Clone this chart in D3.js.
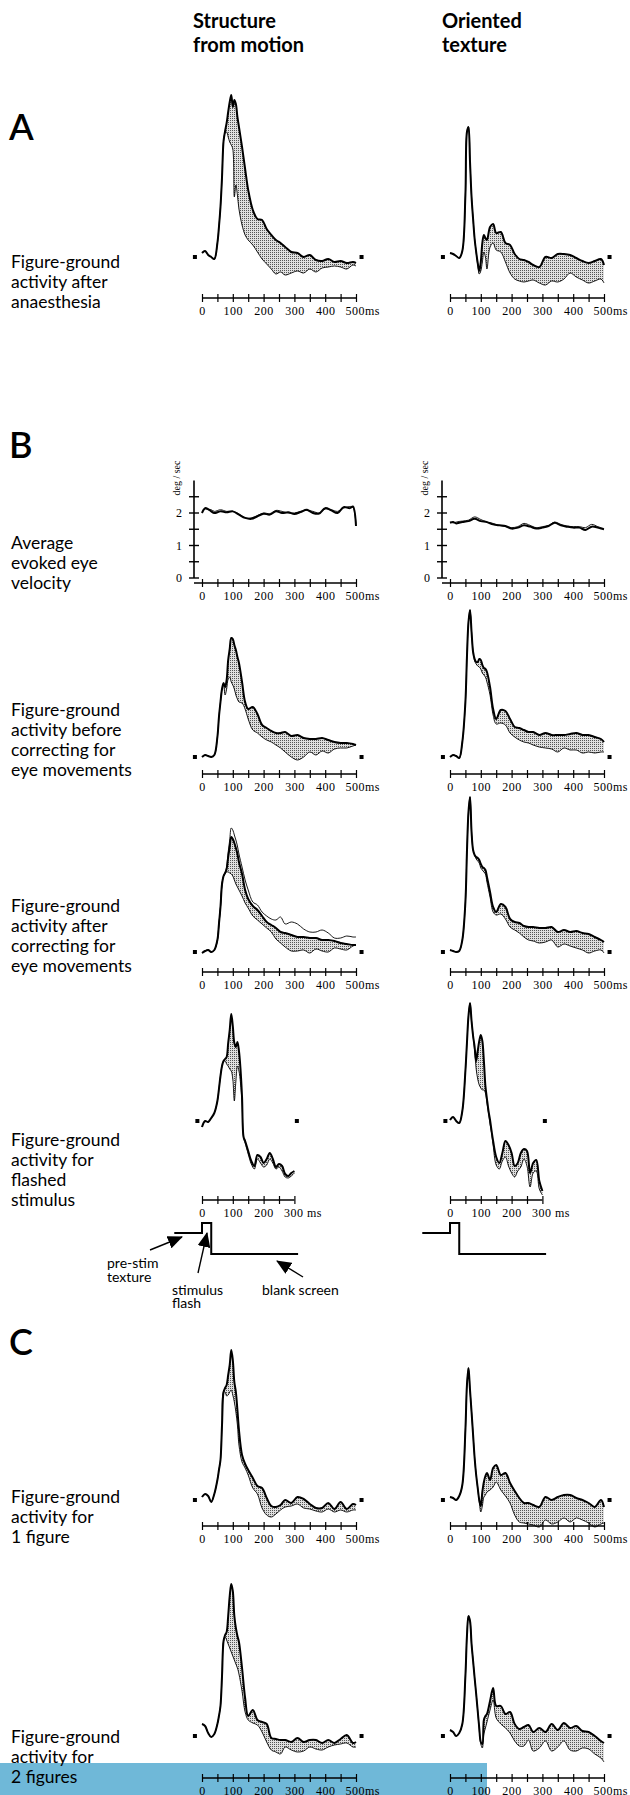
<!DOCTYPE html>
<html>
<head>
<meta charset="utf-8">
<script src="https://cdn.jsdelivr.net/npm/d3@7"></script>
<style>
  body { margin: 0; background: #fff; }
  svg text { font-family: Lato, 'Noto Sans', sans-serif; fill: #000; }
</style>
</head>
<body>
<svg id="chart"></svg>
<script>
// time grids (ms)
var T500 = [0, 10, 20, 30, 40, 50, 55, 60, 65, 70, 75, 80, 85, 90, 95, 100, 105, 110, 115, 120,
  130, 140, 150, 165, 180, 195, 210, 225, 240, 255, 270, 290, 310, 330, 350, 370, 390, 410, 430,
  450, 470, 490, 500];
var T300 = [0, 10, 20, 30, 40, 50, 55, 60, 65, 70, 75, 80, 85, 90, 95, 100, 105, 110, 115, 120,
  125, 130, 135, 140, 150, 160, 170, 180, 190, 200, 210, 220, 230, 240, 250, 260, 270, 280, 290, 300];
var TVEL = [0, 10, 20, 30, 40, 60, 80, 100, 120, 140, 160, 180, 200, 220, 240, 260, 280, 300, 320,
  340, 360, 380, 400, 420, 440, 460, 480, 490, 500];

// activity relative to pre-stimulus level (a.u.), fig = figure response, gnd = ground response
// A: after anaesthesia
var aSfmFig = [4, 6, 2, 0, -2, 14, 30, 50, 80, 116, 126, 134, 145, 155, 162, 150, 157, 153, 140, 130, 110, 88, 67, 47, 38, 37, 28, 22, 17, 14, 10, 5, 4, 0, 2, -3, -4, -2, -5, -4, -6, -5, -6];
var aSfmGnd = [4, 6, 2, 0, -2, 14, 30, 50, 80, 116, 124, 125, 120, 115, 112, 108, 60, 72, 62, 48, 32, 22, 17, 12, 5, -2, -7, -12, -17, -15, -18, -16, -14, -16, -12, -15, -11, -10, -9, -10, -12, -8, -9];
var aTexFig = [4, 3, 1, -1, 6, 62, 125, 130, 95, 60, 38, 18, 5, -6, -14, -5, 14, 22, 19, 17, 30, 33, 24, 25, 14, 12, 3, -2, -3, -5, -8, -10, 0, -1, 3, 3, 2, -1, -4, -6, -4, -2, -8];
var aTexGnd = [4, 3, 1, -1, 6, 62, 125, 130, 95, 60, 38, 18, 5, -8, -17, -14, -5, 5, 0, -12, 10, 14, 7, 5, -5, -16, -22, -24, -25, -24, -23, -26, -28, -24, -25, -22, -16, -20, -23, -26, -24, -22, -26];

// B: average evoked eye velocity (deg/sec)
var velSfmFig = [2.0, 2.15, 2.12, 2.05, 2.0, 2.05, 2.02, 2.05, 1.95, 1.85, 1.82, 1.9, 1.98, 1.95, 2.05, 2.0, 2.02, 1.97, 2.03, 2.1, 2.0, 1.98, 2.15, 2.08, 2.0, 2.18, 2.15, 2.2, 1.6];
var velSfmGnd = [2.0, 2.12, 2.1, 2.1, 2.05, 2.1, 2.05, 2.05, 1.97, 1.85, 1.85, 1.92, 2.0, 1.98, 2.08, 2.05, 2.0, 2.0, 2.05, 2.08, 2.05, 2.0, 2.12, 2.1, 2.05, 2.15, 2.2, 2.18, 1.65];
var velTexFig = [1.7, 1.72, 1.68, 1.7, 1.72, 1.75, 1.82, 1.75, 1.72, 1.65, 1.62, 1.6, 1.52, 1.55, 1.62, 1.58, 1.52, 1.55, 1.6, 1.7, 1.62, 1.58, 1.55, 1.55, 1.48, 1.58, 1.55, 1.52, 1.5];
var velTexGnd = [1.72, 1.7, 1.72, 1.74, 1.75, 1.78, 1.88, 1.8, 1.72, 1.68, 1.62, 1.58, 1.55, 1.58, 1.68, 1.62, 1.55, 1.58, 1.62, 1.72, 1.65, 1.6, 1.58, 1.58, 1.55, 1.65, 1.58, 1.55, 1.52];

// B: before correcting for eye movements
var bSfmFig = [0, 2, 1, 0, 2, 20, 40, 55, 68, 74, 70, 77, 97, 108, 119, 118, 112, 107, 100, 94, 75, 55, 48, 50, 43, 32, 29, 26, 24, 24, 25, 21, 22, 19, 18, 18, 19, 17, 15, 14, 14, 13, 12];
var bSfmGnd = [0, 2, 1, 0, 2, 20, 40, 55, 68, 72, 62, 68, 78, 80, 75, 72, 68, 62, 58, 55, 54, 48, 38, 27, 24, 20, 17, 15, 12, 9, 5, 0, -3, 0, 5, 2, 6, 4, 8, 9, 9, 11, 12];
var bTexFig = [0, 2, 1, -1, 15, 55, 100, 135, 147, 125, 105, 98, 95, 95, 98, 97, 92, 89, 88, 85, 70, 48, 38, 47, 46, 38, 30, 29, 27, 25, 25, 22, 24, 22, 22, 22, 23, 24, 22, 22, 20, 18, 15];
var bTexGnd = [0, 2, 1, -1, 15, 55, 100, 135, 147, 125, 105, 96, 93, 91, 90, 88, 84, 82, 80, 75, 62, 42, 33, 34, 32, 24, 20, 17, 15, 14, 12, 10, 9, 8, 5, 9, 7, 7, 4, 5, 4, 5, 5];

// B: after correcting for eye movements (unc = uncorrected figure response)
var cSfmFig = [-1, 1, 2, 0, 2, 12, 28, 45, 68, 76, 79, 83, 95, 105, 115, 113, 109, 104, 98, 90, 78, 62, 53, 46, 42, 36, 30, 27, 24, 20, 19, 17, 15, 15, 14, 14, 12, 12, 11, 9, 8, 7, 7];
var cSfmGnd = [-1, 1, 2, 0, 2, 12, 28, 45, 68, 76, 79, 80, 80, 79, 78, 76, 72, 68, 65, 62, 56, 49, 44, 36, 32, 28, 24, 20, 13, 9, 5, 1, 1, 2, -1, 3, 1, 0, 4, 3, 2, 6, 7];
var cSfmUnc = [-1, 1, 2, 0, 2, 12, 28, 45, 68, 76, 79, 85, 100, 112, 124, 122, 117, 112, 106, 98, 85, 72, 62, 50, 47, 40, 36, 33, 32, 35, 28, 30, 28, 23, 20, 20, 22, 19, 14, 14, 16, 15, 15];
var cTexFig = [2, 1, 0, 1, 12, 50, 100, 140, 155, 120, 102, 97, 95, 94, 92, 88, 85, 84, 82, 75, 60, 45, 40, 48, 45, 33, 30, 29, 26, 25, 25, 24, 24, 25, 20, 22, 20, 21, 19, 18, 15, 12, 10];
var cTexGnd = [2, 1, 0, 1, 12, 50, 100, 140, 155, 120, 102, 97, 93, 91, 89, 84, 82, 80, 78, 70, 55, 40, 37, 38, 33, 25, 22, 19, 15, 12, 11, 9, 10, 12, 5, 8, 6, 4, 2, -1, 1, 2, -1];

// B: flashed stimulus (300 ms)
var dSfmFig = [-6, 0, -1, 3, 8, 20, 32, 45, 55, 60, 62, 64, 78, 91, 107, 95, 78, 74, 79, 70, 52, 24, -16, -20, -30, -40, -45, -34, -36, -42, -38, -32, -38, -46, -43, -45, -53, -55, -52, -50];
var dSfmGnd = [-6, 0, -1, 3, 8, 20, 32, 45, 55, 60, 60, 57, 55, 52, 50, 42, 20, 40, 55, 50, 38, 18, -17, -22, -33, -43, -48, -38, -42, -46, -44, -38, -42, -48, -46, -50, -56, -57, -55, -52];
var dTexFig = [1, 4, 0, -2, 10, 50, 78, 105, 118, 100, 85, 74, 60, 70, 80, 86, 80, 60, 35, 22, 10, 1, -10, -20, -36, -42, -32, -20, -24, -32, -45, -42, -32, -28, -30, -52, -42, -39, -60, -70];
var dTexGnd = [1, 4, 0, -2, 10, 50, 78, 105, 118, 100, 85, 70, 52, 42, 36, 33, 31, 31, 28, 18, 8, -3, -12, -24, -44, -48, -40, -36, -45, -52, -56, -50, -46, -38, -45, -66, -52, -50, -68, -74];

// stimulus sequence of the flashed condition
var STIM_T = [-90, 0, 0, 30, 30, 312];
var STIM_STATE = ['texture', 'texture', 'flash', 'flash', 'blank', 'blank'];

// C: 1 figure
var eSfmFig = [3, 6, 4, -2, 6, 20, 30, 40, 75, 108, 112, 115, 125, 135, 150, 140, 118, 108, 90, 70, 45, 36, 30, 22, 14, 12, 2, -6, -7, -5, 0, -3, 3, 1, -4, -8, -8, -3, -9, -2, -9, -4, -5];
var eSfmGnd = [3, 6, 4, -2, 6, 20, 30, 40, 75, 108, 108, 104, 105, 108, 110, 105, 98, 88, 75, 55, 38, 32, 25, 12, 6, -8, -15, -17, -14, -10, -7, -6, -4, -8, -9, -11, -12, -9, -12, -10, -12, -10, -10];
var eTexFig = [3, 2, 0, 4, 15, 70, 115, 132, 110, 88, 65, 42, 25, 12, 0, -6, 8, 18, 24, 27, 20, 32, 35, 25, 27, 17, 9, 2, -3, -3, -5, -7, 3, 0, 3, 5, 5, 2, 0, -3, -7, 0, -7];
var eTexGnd = [3, 2, 0, 4, 15, 70, 115, 132, 110, 88, 65, 42, 25, 12, -2, -12, -6, 3, 5, 8, 10, 13, 18, 10, 4, -3, -15, -22, -23, -24, -25, -27, -20, -24, -22, -18, -22, -18, -20, -23, -27, -24, -23];

// C: 2 figures
var fSfmFig = [12, 10, 3, -1, 2, 12, 20, 30, 60, 95, 101, 104, 120, 140, 152, 145, 120, 108, 100, 94, 68, 38, 20, 26, 16, 14, 12, -2, -3, -4, -4, -6, -2, -6, -4, -4, -7, -4, -7, -3, 1, -7, -6];
var fSfmGnd = [12, 10, 3, -1, 2, 12, 20, 30, 60, 95, 99, 96, 92, 88, 84, 80, 76, 72, 68, 62, 45, 24, 16, 13, 11, 4, -6, -14, -16, -18, -11, -14, -16, -15, -11, -13, -14, -11, -9, -8, -7, -11, -11];
var fTexFig = [6, 4, 0, 3, 12, 60, 100, 120, 115, 92, 75, 58, 42, 25, 8, -6, -8, 16, 20, 22, 35, 48, 30, 30, 22, 24, 12, 7, 9, 11, 4, 8, 4, 12, 6, 13, 8, 10, 5, 4, 0, -5, -7];
var fTexGnd = [6, 4, 0, 3, 12, 60, 100, 120, 115, 92, 75, 58, 42, 25, 6, -8, -12, 2, 8, 14, 26, 36, 18, 12, 8, 3, -5, -10, -10, -4, -15, -12, -5, -15, -11, -5, -14, -15, -12, -13, -18, -22, -26];

var columnTitles = [['Structure', 'from motion'], ['Oriented', 'texture']];
var rowLabels = [
  ['Figure-ground', 'activity after', 'anaesthesia'],
  ['Average', 'evoked eye', 'velocity'],
  ['Figure-ground', 'activity before', 'correcting for', 'eye movements'],
  ['Figure-ground', 'activity after', 'correcting for', 'eye movements'],
  ['Figure-ground', 'activity for', 'flashed', 'stimulus'],
  ['Figure-ground', 'activity for', '1 figure'],
  ['Figure-ground', 'activity for', '2 figures']
];
var velTicks = [0, 0.5, 1, 1.5, 2, 2.5];

// ---- layout ----
var w = 630;
var h = 1795;
var colX = [202, 450];
var axisLen = 154; // px for 500 ms
var rowLabelY = [268, 549, 716, 912, 1146, 1503, 1743];
var letters = [['A', 140], ['B', 458], ['C', 1355]];

var svg = d3.select('#chart').attr('width', w).attr('height', h);

// stipple pattern for the figure-ground difference
var defs = svg.append('defs');
var pat = defs.append('pattern')
  .attr('id', 'stipple')
  .attr('width', 2).attr('height', 2)
  .attr('patternUnits', 'userSpaceOnUse');
pat.append('rect').attr('width', 2).attr('height', 2).attr('fill', '#e0e0e0');
pat.append('rect').attr('width', 1).attr('height', 1).attr('fill', '#555');

defs.append('marker')
  .attr('id', 'head')
  .attr('markerUnits', 'userSpaceOnUse')
  .attr('markerWidth', 15).attr('markerHeight', 13)
  .attr('refX', 14).attr('refY', 6.5)
  .attr('orient', 'auto')
  .append('path')
  .attr('d', 'M0,0 L15,6.5 L0,13 Z')
  .attr('fill', '#000');

// highlighted strip at the bottom
svg.append('rect')
  .attr('x', 0).attr('y', 1763)
  .attr('width', 487).attr('height', 32)
  .attr('fill', '#6fb8d8');

function xScale(col) {
  return d3.scaleLinear().domain([0, 500]).range([colX[col], colX[col] + axisLen]);
}

// time axis with ticks crossing the line every 50 ms
function drawTimeAxis(col, y, tMax, unit, startX) {
  var x = xScale(col);
  var ax = d3.axisBottom(x)
    .tickValues(d3.range(0, tMax + 1, 50))
    .tickSize(4)
    .tickFormat(function (d) {
      if (d === tMax) return d + unit;
      return d % 100 === 0 ? d : '';
    });
  var g = svg.append('g')
    .attr('transform', 'translate(0,' + y + ')')
    .call(ax)
    .attr('font-size', 12);
  g.select('.domain').remove();
  g.insert('line', ':first-child')
    .attr('x1', startX || x(0)).attr('x2', x(tMax))
    .attr('stroke', '#000').attr('stroke-width', 1.6);
  g.selectAll('.tick line').attr('y1', -4).attr('y2', 4).attr('stroke-width', 1.2);
  g.selectAll('.tick text')
    .attr('y', 8)
    .style('font-family', "'Liberation Serif', serif")
    .style('letter-spacing', '0.5px')
    .filter(function (d) { return d === tMax; })
    .attr('text-anchor', 'start')
    .attr('dx', -11);
}

// one figure-ground panel
function drawPanel(col, base, axisY, tMax, t, fig, gnd, unc) {
  var x = xScale(col);
  var y = d3.scaleLinear().domain([0, 100]).range([base, base - 100]);
  var idx = d3.range(t.length);

  var area = d3.area()
    .x(function (i) { return x(t[i]); })
    .y0(function (i) { return y(gnd[i]); })
    .y1(function (i) { return y(fig[i]); })
    .curve(d3.curveCatmullRom);
  svg.append('path').datum(idx).attr('d', area).attr('fill', 'url(#stipple)');

  function trace(vals, width) {
    var line = d3.line()
      .x(function (i) { return x(t[i]); })
      .y(function (i) { return y(vals[i]); })
      .curve(d3.curveCatmullRom);
    svg.append('path').datum(idx).attr('d', line)
      .attr('fill', 'none').attr('stroke', '#000')
      .attr('stroke-width', width).attr('stroke-linejoin', 'round');
  }
  if (unc) trace(unc, 0.9);
  trace(gnd, 0.9);
  trace(fig, 2);

  // markers for the pre-stimulus level
  var mk = tMax === 500 ? [-23, 518] : [-15, 308];
  svg.selectAll(null).data(mk).enter().append('rect')
    .attr('x', function (d) { return x(d) - 2; })
    .attr('y', y(0) - 2)
    .attr('width', 4).attr('height', 4)
    .attr('fill', '#000');

  drawTimeAxis(col, axisY, tMax, tMax === 500 ? 'ms' : ' ms');
}

function drawVelocity(col, fig, gnd) {
  var x = xScale(col);
  var y = d3.scaleLinear().domain([0, 3]).range([578, 480.5]);
  var ax0 = colX[col] - 8;

  var g = svg.append('g');
  g.append('line')
    .attr('x1', ax0).attr('x2', ax0)
    .attr('y1', y(0)).attr('y2', y(3))
    .attr('stroke', '#000').attr('stroke-width', 1.6);
  g.selectAll('.vt').data(velTicks).enter().append('line')
    .attr('x1', ax0 - 5).attr('x2', ax0 + 5)
    .attr('y1', function (d) { return y(d); })
    .attr('y2', function (d) { return y(d); })
    .attr('stroke', '#000').attr('stroke-width', 1.4);
  g.selectAll('.vl').data(velTicks.filter(function (d) { return d % 1 === 0; }))
    .enter().append('text')
    .text(function (d) { return d; })
    .attr('x', ax0 - 15)
    .attr('y', function (d) { return y(d) + 4; })
    .attr('text-anchor', 'middle')
    .style('font-family', "'Liberation Serif', serif")
    .attr('font-size', 12);
  g.append('text')
    .text('deg / sec')
    .attr('transform', 'translate(' + (ax0 - 14) + ',478) rotate(-90)')
    .attr('text-anchor', 'middle')
    .style('font-family', "'Liberation Serif', serif")
    .attr('font-size', 10);

  function trace(vals, width) {
    var line = d3.line()
      .x(function (d, i) { return x(TVEL[i]); })
      .y(function (d) { return y(d); })
      .curve(d3.curveCatmullRom);
    svg.append('path').datum(vals).attr('d', line)
      .attr('fill', 'none').attr('stroke', '#000').attr('stroke-width', width);
  }
  trace(gnd, 0.9);
  trace(fig, 2);

  drawTimeAxis(col, 583, 500, 'ms', ax0);
}

// stimulus time course below the flashed panels
function drawStimulus(col) {
  var x = xScale(col);
  var y = d3.scaleOrdinal().domain(['blank', 'texture', 'flash']).range([1254, 1233, 1223]);
  var line = d3.line()
    .x(function (d) { return x(d); })
    .y(function (d, i) { return y(STIM_STATE[i]); });
  svg.append('path').datum(STIM_T).attr('d', line)
    .attr('fill', 'none').attr('stroke', '#000').attr('stroke-width', 2);
}

// ---- draw ----
drawPanel(0, 257, 298, 500, T500, aSfmFig, aSfmGnd);
drawPanel(1, 257, 298, 500, T500, aTexFig, aTexGnd);
drawVelocity(0, velSfmFig, velSfmGnd);
drawVelocity(1, velTexFig, velTexGnd);
drawPanel(0, 757, 774, 500, T500, bSfmFig, bSfmGnd);
drawPanel(1, 757, 774, 500, T500, bTexFig, bTexGnd);
drawPanel(0, 952, 972, 500, T500, cSfmFig, cSfmGnd, cSfmUnc);
drawPanel(1, 952, 972, 500, T500, cTexFig, cTexGnd);
drawPanel(0, 1121, 1200, 300, T300, dSfmFig, dSfmGnd);
drawPanel(1, 1121, 1200, 300, T300, dTexFig, dTexGnd);
drawStimulus(0);
drawStimulus(1);
drawPanel(0, 1500, 1526, 500, T500, eSfmFig, eSfmGnd);
drawPanel(1, 1500, 1526, 500, T500, eTexFig, eTexGnd);
drawPanel(0, 1736, 1778, 500, T500, fSfmFig, fSfmGnd);
drawPanel(1, 1736, 1778, 500, T500, fTexFig, fTexGnd);

// stimulus annotations
var notes = [
  { x: 107, y: 1268, s: 'pre-stim' }, { x: 107, y: 1282, s: 'texture' },
  { x: 172, y: 1295, s: 'stimulus' }, { x: 172, y: 1308, s: 'flash' },
  { x: 262, y: 1295, s: 'blank screen' }
];
svg.selectAll('.note').data(notes).enter().append('text')
  .text(function (d) { return d.s; })
  .attr('x', function (d) { return d.x; })
  .attr('y', function (d) { return d.y; })
  .attr('font-size', 14);

var arrows = [[150, 1250, 182, 1237], [198, 1273, 207, 1233], [303, 1277, 277, 1261]];
svg.selectAll('.arrow').data(arrows).enter().append('line')
  .attr('x1', function (d) { return d[0]; })
  .attr('y1', function (d) { return d[1]; })
  .attr('x2', function (d) { return d[2]; })
  .attr('y2', function (d) { return d[3]; })
  .attr('stroke', '#000').attr('stroke-width', 1.4)
  .attr('marker-end', 'url(#head)');

// column titles
columnTitles.forEach(function (lines, c) {
  svg.selectAll(null).data(lines).enter().append('text')
    .text(function (d) { return d; })
    .attr('x', c === 0 ? 193 : 442)
    .attr('y', function (d, i) { return 28 + i * 24; })
    .attr('font-size', 20)
    .attr('font-weight', 700);
});

// row labels
rowLabels.forEach(function (lines, r) {
  svg.selectAll(null).data(lines).enter().append('text')
    .text(function (d) { return d; })
    .attr('x', 11)
    .attr('y', function (d, i) { return rowLabelY[r] + i * 20; })
    .attr('font-size', 17.5);
});

// section letters
svg.selectAll('.letter').data(letters).enter().append('text')
  .text(function (d) { return d[0]; })
  .attr('x', 9)
  .attr('y', function (d) { return d[1]; })
  .attr('font-size', 36)
  .attr('font-weight', 600);
</script>
</body>
</html>
